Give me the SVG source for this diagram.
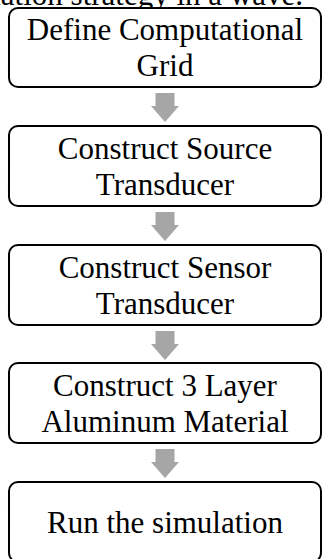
<svg xmlns="http://www.w3.org/2000/svg" width="323" height="559" viewBox="0 0 323 559">
<style>
.box{fill:#fff;stroke:#000;stroke-width:2}
.t{font-family:"Liberation Serif","Times New Roman",serif;font-size:31px;fill:#000;text-anchor:middle}
.arr{fill:#a6a6a6}
</style>
<rect width="323" height="559" fill="#fff"/>
<text class="t" x="303" y="5" style="text-anchor:end">simulation strategy in a wave.</text>
<g id="node1"><rect class="box" x="9" y="8" width="312" height="79" rx="9"/><text class="t" x="165" y="40">Define Computational</text><text class="t" x="165" y="76">Grid</text></g>
<g id="node2"><rect class="box" x="9" y="126" width="312" height="80" rx="9"/><text class="t" x="165" y="159">Construct Source</text><text class="t" x="165" y="195">Transducer</text></g>
<g id="node3"><rect class="box" x="9" y="245" width="312" height="80" rx="9"/><text class="t" x="165" y="278">Construct Sensor</text><text class="t" x="165" y="314">Transducer</text></g>
<g id="node4"><rect class="box" x="9" y="363" width="312" height="80" rx="9"/><text class="t" x="165" y="396">Construct 3 Layer</text><text class="t" x="165" y="432">Aluminum Material</text></g>
<g id="node5"><rect class="box" x="9" y="482" width="312" height="80" rx="9"/><text class="t" x="165" y="533">Run the simulation</text></g>
<g id="connectors">
<path class="arr" d="M155.5,93H174.5V106H179L165,122L151,106H155.5Z"/>
<path class="arr" d="M155.5,212H174.5V225H179L165,241L151,225H155.5Z"/>
<path class="arr" d="M155.5,331H174.5V344H179L165,360L151,344H155.5Z"/>
<path class="arr" d="M155.5,449H174.5V462H179L165,478L151,462H155.5Z"/>
</g>
</svg>
